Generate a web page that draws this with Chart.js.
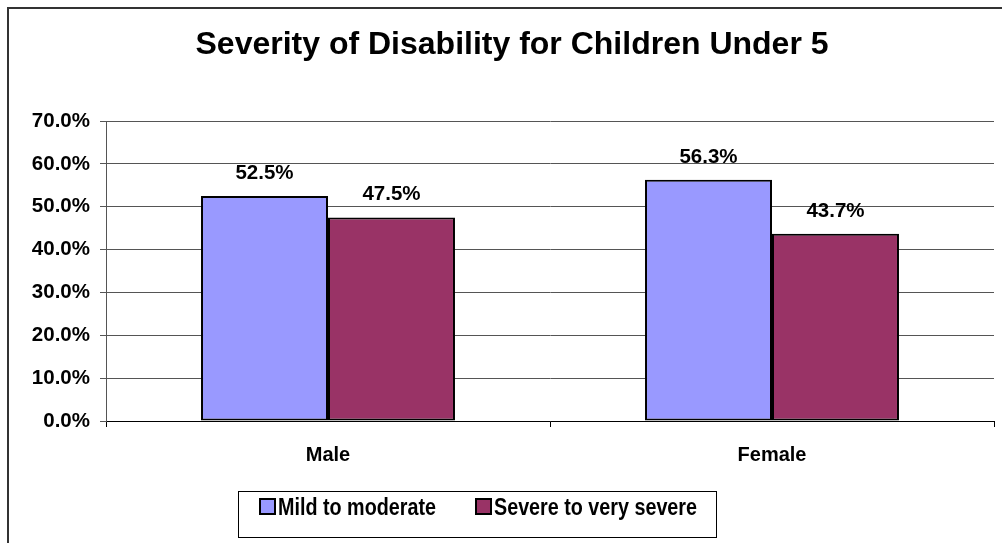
<!DOCTYPE html>
<html>
<head>
<meta charset="utf-8">
<title>Severity of Disability for Children Under 5</title>
<script src="https://cdn.jsdelivr.net/npm/chart.js@4"></script>
<style>
  html, body { margin: 0; padding: 0; background: #fff; }
  canvas { display: block; }
</style>
</head>
<body>
<canvas id="severityChart" width="1002" height="543"></canvas>
<script>
const chartTitle = 'Severity of Disability for Children Under 5';
const genders = ['Male', 'Female'];
const mildData = [52.5, 56.3];
const severeData = [47.5, 43.7];
const seriesNames = ['Mild to moderate', 'Severe to very severe'];
const seriesColors = ['#9999FF', '#993366'];

const FONT = '"Liberation Sans", Arial, sans-serif';

function pct(v) {
    return v.toFixed(1) + '%';
}

// outer frame, title, value labels and the boxed legend
const decorations = {
    id: 'decorations',
    afterDraw(chart) {
        const ctx = chart.ctx;
        ctx.save();

        ctx.strokeStyle = '#333';
        ctx.lineWidth = 2;
        ctx.strokeRect(8, 8, 1100, 600);

        ctx.fillStyle = '#000';
        ctx.textAlign = 'center';
        ctx.textBaseline = 'alphabetic';
        ctx.font = 'bold 32px ' + FONT;
        ctx.fillText(chartTitle, 512, 54);

        ctx.font = 'bold 20.5px ' + FONT;
        chart.data.datasets.forEach((ds, i) => {
            chart.getDatasetMeta(i).data.forEach((bar, j) => {
                ctx.fillText(pct(ds.data[j]), bar.x, bar.y - 17);
            });
        });

        // legend
        ctx.lineWidth = 1;
        ctx.strokeStyle = '#000';
        ctx.strokeRect(238.5, 491.5, 478, 46);
        const items = [
            { x: 260, textX: 278, w: 158 },
            { x: 476, textX: 494, w: 203 }
        ];
        ctx.textAlign = 'left';
        ctx.font = 'bold 23px ' + FONT;
        items.forEach((it, i) => {
            ctx.fillStyle = seriesColors[i];
            ctx.fillRect(it.x, 499, 15, 15);
            ctx.lineWidth = 2;
            ctx.strokeRect(it.x, 499, 15, 15);
            ctx.fillStyle = '#000';
            ctx.fillText(seriesNames[i], it.textX, 515, it.w);
        });

        ctx.restore();
    }
};

new Chart(document.getElementById('severityChart').getContext('2d'), {
    type: 'bar',
    data: {
        labels: genders,
        datasets: [{
            label: seriesNames[0],
            data: mildData,
            backgroundColor: seriesColors[0],
            borderColor: '#000',
            borderWidth: 2,
            borderSkipped: false
        }, {
            label: seriesNames[1],
            data: severeData,
            backgroundColor: seriesColors[1],
            borderColor: '#000',
            borderWidth: 2,
            borderSkipped: false
        }]
    },
    options: {
        responsive: false,
        animation: false,
        events: [],
        layout: {
            padding: { left: 0, top: 121, right: 8, bottom: 0 }
        },
        datasets: {
            bar: { barPercentage: 1, categoryPercentage: 0.572 }
        },
        plugins: {
            legend: { display: false },
            title: { display: false },
            tooltip: { enabled: false }
        },
        scales: {
            x: {
                afterFit(scale) { scale.height = 122; },
                grid: {
                    offset: true,
                    drawOnChartArea: false,
                    drawTicks: true,
                    tickLength: 6,
                    color: '#000'
                },
                border: { display: true, color: '#000', width: 1 },
                ticks: {
                    padding: 16,
                    color: '#000',
                    font: { family: FONT, size: 20, weight: 'bold' }
                }
            },
            y: {
                min: 0,
                max: 70,
                afterFit(scale) { scale.width = 106; },
                grid: {
                    color: '#555',
                    tickLength: 6,
                    drawTicks: true
                },
                border: { display: true, color: '#555', width: 1 },
                ticks: {
                    stepSize: 10,
                    padding: 10,
                    color: '#000',
                    font: { family: FONT, size: 20.5, weight: 'bold' },
                    callback: v => pct(v)
                }
            }
        }
    },
    plugins: [decorations]
});
</script>
</body>
</html>
